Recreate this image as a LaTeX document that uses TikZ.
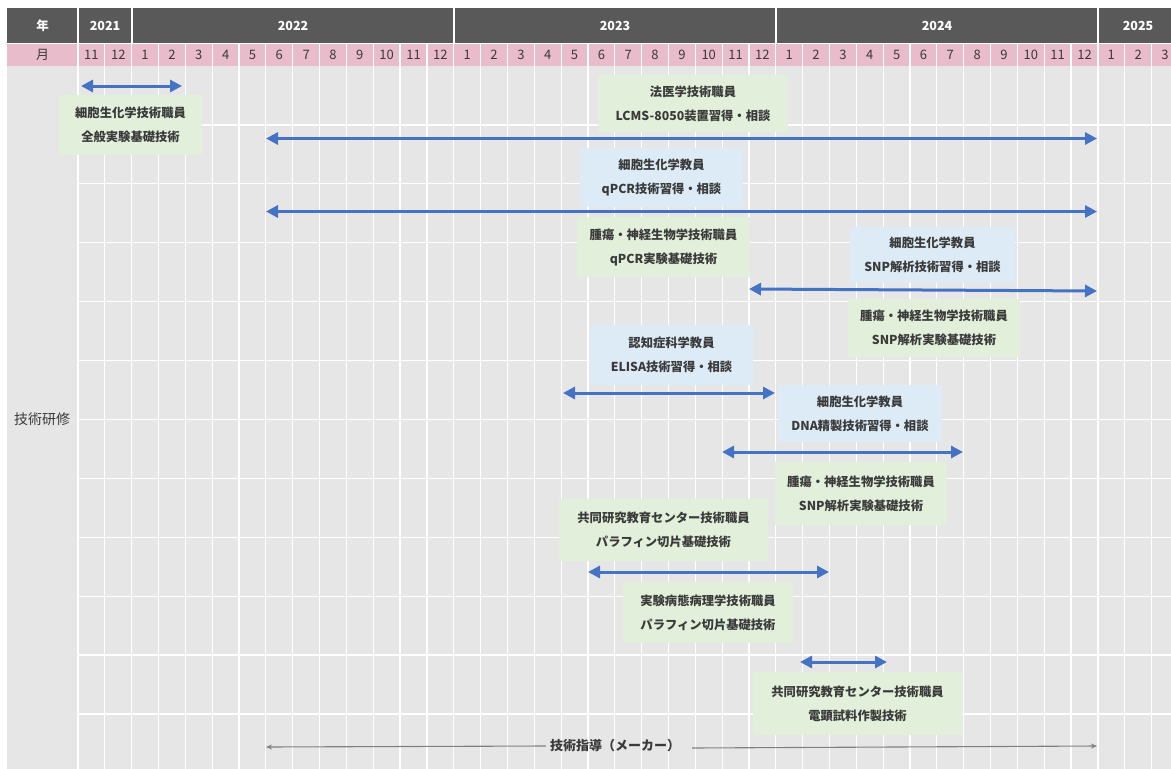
\documentclass[tikz,border=0pt]{standalone}
\usepackage{fontspec}
\setmainfont{Noto Sans CJK JP}
\usetikzlibrary{arrows.meta}
\definecolor{hdr}{HTML}{595959}
\definecolor{pinkc}{HTML}{E8BCCB}
\definecolor{bodyc}{HTML}{E7E6E6}
\definecolor{greenc}{HTML}{E2EFDA}
\definecolor{bluec}{HTML}{DDEBF7}
\definecolor{arrc}{HTML}{4472C4}
\definecolor{txt}{HTML}{3A3A3A}
\definecolor{thinc}{HTML}{808080}
\tikzset{
  box/.style={inner sep=0pt, align=center, text=txt,
    font=\bfseries\fontsize{12.3}{24}\selectfont},
  gbox/.style={box, fill=greenc},
  bbox/.style={box, fill=bluec},
  span/.style={draw=arrc, line width=3pt,
    arrows={Triangle[length=12pt,width=12pt]-Triangle[length=12pt,width=12pt]}},
  thinarr/.style={draw=thinc, line width=1.1pt, -{Stealth[length=6pt,width=5pt]}},
  yearlbl/.style={text=white, font=\bfseries\fontsize{12.5}{14}\selectfont},
  monthlbl/.style={text=txt, font=\fontsize{13}{14}\selectfont},
  gridw/.style={draw=white, line width=1.2pt}
}
\begin{document}
\begin{tikzpicture}[x=1pt,y=-1pt]
\useasboundingbox (0,0) rectangle (1171,769);
% backgrounds
\fill[hdr] (7,8) rectangle (1171,43);
\fill[pinkc] (7,43) rectangle (1171,66);
\fill[bodyc] (7,66) rectangle (1171,769);
% grid
\draw[white, line width=1pt] (7,43) -- (1171,43);
\foreach \x in {78,132,454,776,1098} \draw[gridw] (\x,8) -- (\x,43);
\foreach \k in {0,...,41} \draw[gridw] ({78+26.84*\k},43) -- ({78+26.84*\k},769);
\foreach \k in {1,...,11} \draw[gridw] (78,{66+58.9*\k}) -- (1171,{66+58.9*\k});
% header labels
\node[yearlbl] (ynen) at (42.5,25.5) {年};
\node[yearlbl] (y21) at (105,25.5) {2021};
\node[yearlbl] (y22) at (293,25.5) {2022};
\node[yearlbl] (y23) at (615,25.5) {2023};
\node[yearlbl] (y24) at (937,25.5) {2024};
\node[yearlbl] (y25) at (1138,25.5) {2025};
\node[monthlbl] (mtsuki) at (42.5,55) {月};
\foreach \m [count=\i from 0] in {11,12,1,2,3,4,5,6,7,8,9,10,11,12,1,2,3,4,5,6,7,8,9,10,11,12,1,2,3,4,5,6,7,8,9,10,11,12,1,2,3}
  \node[monthlbl] (m\i) at ({78+26.84*\i+13.42},55) {\m};
\node[text=txt, font=\fontsize{14}{16}\selectfont] (kenshu) at (42,419) {技術研修};
% boxes
\node[gbox, minimum width=143pt, minimum height=60pt] (b1) at (130.5,125) {細胞生化学技術職員\\全般実験基礎技術};
\node[gbox, minimum width=190pt, minimum height=57pt] (b2) at (693,103.5) {法医学技術職員\\LCMS-8050装置習得・相談};
\node[bbox, minimum width=163pt, minimum height=59pt] (b3) at (661.5,177) {細胞生化学教員\\qPCR技術習得・相談};
\node[gbox, minimum width=173pt, minimum height=60pt] (b4) at (663.5,247) {腫瘍・神経生物学技術職員\\qPCR実験基礎技術};
\node[bbox, minimum width=165pt, minimum height=56pt] (b5) at (932.5,255) {細胞生化学教員\\SNP解析技術習得・相談};
\node[gbox, minimum width=172pt, minimum height=58pt] (b6) at (934,327.5) {腫瘍・神経生物学技術職員\\SNP解析実験基礎技術};
\node[bbox, minimum width=163pt, minimum height=60pt] (b7) at (671.5,355) {認知症科学教員\\ELISA技術習得・相談};
\node[bbox, minimum width=164pt, minimum height=57pt] (b8) at (860,413.5) {細胞生化学教員\\DNA精製技術習得・相談};
\node[gbox, minimum width=172pt, minimum height=63pt] (b9) at (861,493.5) {腫瘍・神経生物学技術職員\\SNP解析実験基礎技術};
\node[gbox, minimum width=209pt, minimum height=62pt] (b10) at (663.5,530) {共同研究教育センター技術職員\\パラフィン切片基礎技術};
\node[gbox, minimum width=170pt, minimum height=61pt] (b11) at (708,612.5) {実験病態病理学技術職員\\パラフィン切片基礎技術};
\node[gbox, minimum width=209pt, minimum height=63pt] (b12) at (857.5,703.5) {共同研究教育センター技術職員\\電顕試料作製技術};
% span arrows
\coordinate (a1s) at (81,86);   \coordinate (a1e) at (182,86);
\coordinate (a2s) at (266,138.5); \coordinate (a2e) at (1097,138.5);
\coordinate (a3s) at (266,211.5); \coordinate (a3e) at (1097,211.5);
\coordinate (a4s) at (749,289); \coordinate (a4e) at (1097,291);
\coordinate (a5s) at (563,393); \coordinate (a5e) at (775,393);
\coordinate (a6s) at (722,452); \coordinate (a6e) at (963,452);
\coordinate (a7s) at (588,572); \coordinate (a7e) at (829,572);
\coordinate (a8s) at (800,662); \coordinate (a8e) at (887,662);
\foreach \n in {1,...,8} \draw[span] (a\n s) -- (a\n e);
% maker line
\node[text=txt, font=\bfseries\fontsize{13}{15}\selectfont, inner xsep=4pt] (maker) at (615,746) {技術指導（メーカー）};
\coordinate (mkl) at (266,747);
\coordinate (mkr) at (1097,746);
\draw[thinarr] (maker.west) -- (mkl);
\draw[thinarr] ([xshift=8pt,yshift=-2pt]maker.east) -- (mkr);
\end{tikzpicture}
\end{document}
